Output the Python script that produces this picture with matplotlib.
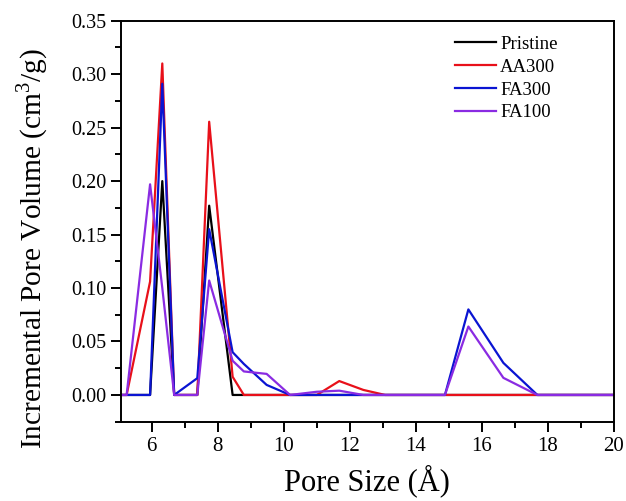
import matplotlib
matplotlib.use("Agg")
import matplotlib.pyplot as plt
from matplotlib.ticker import MultipleLocator

pore_size = [4.5, 5.24, 5.95, 6.32, 6.68, 7.38, 7.74, 8.45, 8.79, 9.48, 10.19, 11.0,
             11.68, 12.41, 13.07, 14.88, 15.59, 16.65, 17.68, 20.5]
pristine = [0, 0, 0, 0.200, 0, 0, 0.177, 0, 0, 0, 0, 0,
            0, 0, 0, 0, 0, 0, 0, 0]
aa300 = [0, 0, 0.106, 0.310, 0, 0, 0.2555, 0.017, 0, 0, 0, 0,
         0.013, 0.0047, 0, 0, 0, 0, 0, 0]
fa300 = [0, 0, 0, 0.291, 0, 0.0157, 0.155, 0.040, 0.029, 0.0094, 0, 0,
         0, 0, 0, 0, 0.080, 0.030, 0, 0]
fa100 = [0, 0, 0.197, 0.10, 0, 0, 0.107, 0.032, 0.022, 0.0197, 0, 0.003,
         0.004, 0, 0, 0, 0.064, 0.016, 0, 0]

series_names = ["Pristine", "AA300", "FA300", "FA100"]
series_values = [pristine, aa300, fa300, fa100]
colors = ["#000000", "#e8101a", "#0a14d2", "#8a2be2"]

plt.rcParams['font.family'] = ['Liberation Serif', 'DejaVu Serif']
plt.rcParams['mathtext.fontset'] = 'custom'
plt.rcParams['mathtext.rm'] = 'Liberation Serif'

fig = plt.figure(figsize=(6.26, 5.01), dpi=100)
ax = fig.add_axes([0.1928, 0.1583, 0.788, 0.8004])

for name, vals, c in zip(series_names, series_values, colors):
    ax.plot(pore_size, vals, color=c, lw=1.6, label=name)

ax.set_xlim(5.06, 20)
ax.set_ylim(-0.025, 0.35)
ax.xaxis.set_major_locator(MultipleLocator(2))
ax.xaxis.set_minor_locator(MultipleLocator(1))
ax.yaxis.set_major_locator(MultipleLocator(0.05))
ax.yaxis.set_minor_locator(MultipleLocator(0.025))
ax.yaxis.set_major_formatter(matplotlib.ticker.FormatStrFormatter('%.2f'))
ax.tick_params(which='major', direction='out', length=7, width=1.4)
ax.tick_params(which='minor', direction='out', length=4, width=1.4)
ax.tick_params(axis='x', labelsize=15, pad=4)
ax.tick_params(axis='y', labelsize=14.5, pad=3)
for s in ax.spines.values():
    s.set_linewidth(1.4)

ax.set_xlabel("Pore Size (Å)", fontsize=22, labelpad=6)
ax.set_ylabel("Incremental Pore Volume (cm$^3$/g)", fontsize=21.2)
ax.yaxis.set_label_coords(-0.143, 0.433)

leg = ax.legend(loc='upper left', bbox_to_anchor=(0.678, 0.962), frameon=False,
                fontsize=13.5, handlelength=2.2, handletextpad=0.2,
                labelspacing=0.3, borderpad=0, borderaxespad=0)

fig.savefig("out.png", dpi=100)
